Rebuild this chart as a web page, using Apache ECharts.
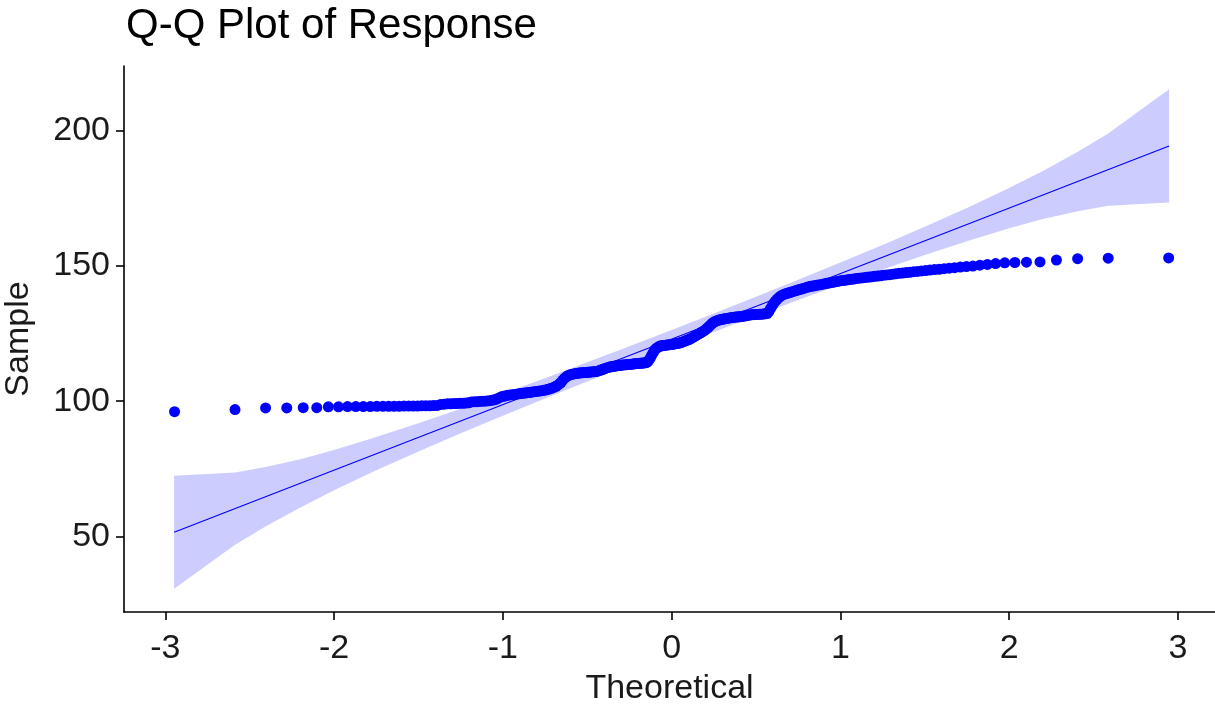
<!DOCTYPE html>
<html>
<head>
<meta charset="utf-8">
<title>Q-Q Plot of Response</title>
<script src="https://cdn.jsdelivr.net/npm/echarts@6/dist/echarts.min.js"></script>
<style>
  html, body { margin: 0; padding: 0; background: #ffffff; }
  #chart { width: 1215px; height: 708px; }
</style>
</head>
<body>
<div id="chart"></div>
<script>
// Sorted sample of the response (n = 310)
const sampleValues = [
  96.1, 96.9, 97.5, 97.5, 97.6, 97.6,
  97.9, 97.9, 98.0, 98.0, 98.0, 98.0, 98.1, 98.1, 98.1, 98.1, 98.1, 98.2, 98.2, 98.2, 98.2, 98.3, 98.3, 98.3, 98.4, 98.4,
  98.8, 98.9, 99.0, 99.0, 99.1, 99.1, 99.2, 99.2, 99.3, 99.4,
  99.7, 99.8, 99.8, 99.9, 100.0, 100.0, 100.1, 100.2, 100.3, 100.5, 100.8, 101.2,
  101.6, 101.8, 102.0, 102.2, 102.3, 102.4, 102.5, 102.6, 102.7, 102.8, 102.9, 103.0,
  103.1, 103.2, 103.3, 103.4, 103.5, 103.6, 103.7, 103.8, 103.9, 104.0, 104.1, 104.3,
  104.5, 104.7, 104.9, 105.2, 105.5, 105.9, 106.4, 107.0, 107.8,
  108.5, 109.0, 109.4, 109.7, 109.9, 110.0, 110.1, 110.2, 110.3,
  110.4, 110.5, 110.5, 110.6, 110.6, 110.7, 110.7, 110.8, 110.8, 110.9, 110.9, 111.0, 111.1,
  111.3, 111.5, 111.7, 111.9, 112.1, 112.3, 112.5, 112.6, 112.7, 112.8, 112.9, 113.0, 113.1, 113.2, 113.2, 113.3,
  113.4, 113.4, 113.5, 113.5, 113.6, 113.6, 113.7, 113.7, 113.8, 113.8, 113.9, 113.9, 114.0, 114.0, 114.1, 114.1, 114.2, 114.3, 114.5,
  115.2, 116.0, 117.0, 118.0, 118.8, 119.4, 119.8, 120.1, 120.4,
  120.5, 120.6, 120.6, 120.7, 120.8, 120.8, 120.9, 121.0, 121.0, 121.1, 121.2, 121.3, 121.4, 121.5, 121.6,
  121.8, 122.0, 122.2, 122.4, 122.6, 122.8, 123.0, 123.3, 123.6, 123.9, 124.2, 124.5, 124.8, 125.1, 125.4,
  125.7, 126.0, 126.4, 126.8, 127.3, 127.8, 128.3, 128.8, 129.2, 129.5, 129.7, 129.9, 130.0, 130.2,
  130.3, 130.4, 130.5, 130.6, 130.7, 130.8, 130.9, 131.0, 131.0, 131.1, 131.1, 131.2, 131.2, 131.3, 131.4, 131.5, 131.6, 131.7, 131.8, 131.9, 132.0,
  132.0, 132.1, 132.1, 132.1, 132.2, 132.2, 132.2, 132.3, 132.3, 132.4,
  133.2, 134.2, 135.2, 136.2, 137.0, 137.7, 138.3, 138.8, 139.2, 139.5,
  139.7, 139.9, 140.1, 140.3, 140.5, 140.7, 140.9, 141.1, 141.3, 141.5, 141.7, 141.9, 142.1, 142.3, 142.5, 142.6, 142.7, 142.9, 143.0,
  143.1, 143.3, 143.4, 143.6, 143.7, 143.9, 144.0, 144.2, 144.3, 144.5, 144.6, 144.7, 144.8, 145.0, 145.1,
  145.2, 145.4, 145.5, 145.6, 145.7, 145.8, 145.9, 146.0, 146.2, 146.3, 146.4, 146.6, 146.7, 146.8, 147.0, 147.1, 147.3,
  147.4, 147.6, 147.7, 147.9, 148.0, 148.2, 148.3, 148.5, 148.7, 148.8, 149.0, 149.2,
  149.4, 149.6, 149.8, 150.0, 150.3, 150.6, 150.9,
  151.2, 151.3, 151.4, 151.5, 152.2, 152.7, 152.9, 153.0
];

// Reference line (end points at the extreme theoretical quantiles)
const lineX = [-2.948, 2.948];
const lineY = [51.5, 194.4];

// 95% confidence band around the reference line
const bandX     = [-2.948, -2.587, -2.407, -2.2, -2.0, -1.75, -1.5, -1.25, -1.0, -0.75, -0.5, -0.25, 0,
                   0.25, 0.5, 0.75, 1.0, 1.25, 1.5, 1.75, 2.0, 2.2, 2.407, 2.587, 2.948];
const bandUpper = [72.4, 73.6, 75.6, 78.5, 81.9, 86.7, 91.8, 97.2, 102.8, 108.5, 114.4, 120.3, 126.3,
                   132.4, 138.6, 144.9, 151.3, 157.8, 164.5, 171.5, 178.9, 185.2, 192.3, 199.0, 215.4];
const bandLower = [30.6, 46.9, 53.6, 60.7, 67.0, 74.4, 81.4, 88.1, 94.6, 101.0, 107.3, 113.5, 119.6,
                   125.6, 131.5, 137.4, 143.1, 148.7, 154.1, 159.2, 164.0, 167.4, 170.3, 172.3, 173.5];

// Axis ticks
const xTicks = [-3, -2, -1, 0, 1, 2, 3];
const yTicks = [50, 100, 150, 200];

// Standard normal quantile function (Acklam's rational approximation)
function qnorm(p) {
  const a = [-3.969683028665376e+01, 2.209460984245205e+02, -2.759285104469687e+02,
             1.383577518672690e+02, -3.066479806614716e+01, 2.506628277459239e+00];
  const b = [-5.447609879822406e+01, 1.615858368580409e+02, -1.556989798598866e+02,
             6.680131188771972e+01, -1.328068155288572e+01];
  const c = [-7.784894002430293e-03, -3.223964580411365e-01, -2.400758277161838e+00,
             -2.549732539343734e+00, 4.374664141464968e+00, 2.938163982698783e+00];
  const d = [7.784695709041462e-03, 3.224671290700398e-01, 2.445134137142996e+00,
             3.754408661907416e+00];
  const pl = 0.02425, ph = 1 - pl;
  let q, r;
  if (p < pl) {
    q = Math.sqrt(-2 * Math.log(p));
    return (((((c[0]*q+c[1])*q+c[2])*q+c[3])*q+c[4])*q+c[5]) / ((((d[0]*q+d[1])*q+d[2])*q+d[3])*q+1);
  }
  if (p <= ph) {
    q = p - 0.5; r = q * q;
    return (((((a[0]*r+a[1])*r+a[2])*r+a[3])*r+a[4])*r+a[5])*q / (((((b[0]*r+b[1])*r+b[2])*r+b[3])*r+b[4])*r+1);
  }
  q = Math.sqrt(-2 * Math.log(1 - p));
  return -(((((c[0]*q+c[1])*q+c[2])*q+c[3])*q+c[4])*q+c[5]) / ((((d[0]*q+d[1])*q+d[2])*q+d[3])*q+1);
}

// Pair each sorted sample value with its theoretical quantile (plotting positions (i - 0.5) / n)
const n = sampleValues.length;
const qqPoints = sampleValues.map((v, i) => [qnorm((i + 0.5) / n), v]);
const linePoints = lineX.map((x, i) => [x, lineY[i]]);

const FONT = "'Liberation Sans', Arial, Helvetica, sans-serif";
const TEXT_COLOR = '#1a1a1a';

const chart = echarts.init(document.getElementById('chart'), null, { renderer: 'canvas' });

chart.setOption({
  animation: false,
  backgroundColor: '#ffffff',
  title: {
    text: 'Q-Q Plot of Response',
    left: 121,
    top: 0,
    textStyle: { fontFamily: FONT, fontSize: 42, fontWeight: 'normal', color: '#000000' }
  },
  grid: {
    left: 124,
    top: 66,
    right: 0,
    bottom: 96,
    outerBoundsMode: 'none'
  },
  xAxis: {
    type: 'value',
    min: -3.245,
    max: 3.22,
    name: 'Theoretical',
    nameLocation: 'middle',
    nameGap: 60,
    nameTextStyle: { fontFamily: FONT, fontSize: 34, color: TEXT_COLOR },
    axisLine: { onZero: false, lineStyle: { color: '#000000', width: 1.6 } },
    axisTick: { show: true, length: 8, lineStyle: { color: '#000000', width: 1.6 }, customValues: xTicks },
    axisLabel: { fontFamily: FONT, fontSize: 34, color: TEXT_COLOR, margin: 20, customValues: xTicks },
    splitLine: { show: false }
  },
  yAxis: {
    type: 'value',
    min: 22,
    max: 224,
    name: 'Sample',
    nameLocation: 'middle',
    nameGap: 88,
    nameRotate: 90,
    nameTextStyle: { fontFamily: FONT, fontSize: 34, color: TEXT_COLOR },
    axisLine: { show: true, onZero: false, lineStyle: { color: '#000000', width: 1.6 } },
    axisTick: { show: true, length: 8, lineStyle: { color: '#000000', width: 1.6 }, customValues: yTicks },
    axisLabel: { fontFamily: FONT, fontSize: 34, color: TEXT_COLOR, margin: 14, customValues: yTicks },
    splitLine: { show: false }
  },
  series: [
    {
      name: 'band',
      type: 'custom',
      silent: true,
      z: 1,
      data: [[0, 0]],
      renderItem: function (params, api) {
        const pts = [];
        for (let i = 0; i < bandX.length; i++) pts.push(api.coord([bandX[i], bandUpper[i]]));
        for (let i = bandX.length - 1; i >= 0; i--) pts.push(api.coord([bandX[i], bandLower[i]]));
        return { type: 'polygon', shape: { points: pts }, style: { fill: '#CCCCFF' } };
      }
    },
    {
      name: 'sample',
      type: 'scatter',
      z: 2,
      symbol: 'circle',
      symbolSize: 11,
      itemStyle: { color: '#0000FF', opacity: 1 },
      data: qqPoints
    },
    {
      name: 'reference',
      type: 'line',
      z: 3,
      showSymbol: false,
      symbol: 'none',
      lineStyle: { color: '#0000FF', width: 1.2 },
      data: linePoints
    }
  ]
});
</script>
</body>
</html>
